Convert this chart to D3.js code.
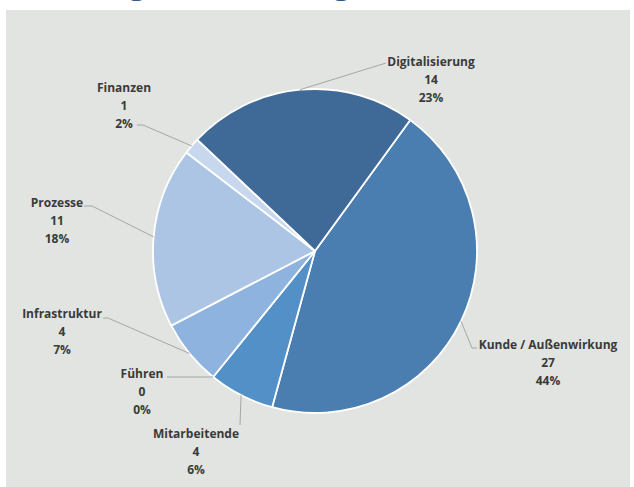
<!DOCTYPE html>
<html>
<head>
<meta charset="utf-8">
<script src="https://cdn.jsdelivr.net/npm/d3@7"></script>
<style>
    body { margin: 0; background: #ffffff; }
    svg { display: block; }
    .lbl { font-family: "Open Sans", sans-serif; font-weight: 700; font-size: 12px; fill: #3a3a3a; }
</style>
</head>
<body>
<div id="chart"></div>
<script>
// chart data, clockwise from the first slice
const categories = ["Kunde / Außenwirkung", "Mitarbeitende", "Führen", "Infrastruktur", "Prozesse", "Finanzen", "Digitalisierung"];
const counts = [27, 4, 0, 4, 11, 1, 14];
const percentLabels = ["44%", "6%", "0%", "7%", "18%", "2%", "23%"];
const colors = ["#4a7eb1", "#5290c7", "#5a95cb", "#8eb3de", "#adc5e5", "#c7d7ee", "#3f6a98"];
const title = "Zuordnung der Meldungen";

const W = 634, H = 487;
const cx = 315, cy = 251, R = 162;

// label centre x, first line y, and leader path (elbow) near the label
const labelPos = [
    { x: 548, y: 349, elbow: [[472, 348], [477, 348]] },
    { x: 196, y: 438, elbow: [[240, 425]] },
    { x: 142, y: 378, elbow: [[167, 377]] },
    { x: 62, y: 318, elbow: [[108, 318], [103, 318]] },
    { x: 57, y: 207, elbow: [[92, 206], [84, 206]] },
    { x: 124, y: 92, elbow: [[143, 125], [137, 125]] },
    { x: 431, y: 66, elbow: [[386, 63]] }
];

const svg = d3.select("#chart").append("svg")
    .attr("width", W)
    .attr("height", H);

// title sits above the panel, only descenders are visible
const t = svg.append("text")
    .attr("y", -7.5)
    .attr("font-family", "Open Sans, sans-serif")
    .attr("font-size", 33)
    .attr("fill", "#2f5a8c")
    .text(title);
const gi = title.indexOf("g");
const gx = t.node().getStartPositionOfChar(gi).x;
t.attr("x", 128 - gx);

svg.append("rect")
    .attr("x", 6).attr("y", 10)
    .attr("width", 624).attr("height", H - 10)
    .attr("fill", "#e2e4e1");

const data = categories.map((c, i) => ({ name: c, value: counts[i], pct: percentLabels[i], color: colors[i] }));

const pie = d3.pie()
    .value(d => d.value)
    .sort(null)
    .startAngle(36 * Math.PI / 180)
    .endAngle(396 * Math.PI / 180);

const arcs = pie(data);
const arc = d3.arc().innerRadius(0).outerRadius(R);

const g = svg.append("g").attr("transform", `translate(${cx},${cy})`);

g.selectAll("path.slice")
    .data(arcs.filter(a => a.data.value > 0))
    .join("path")
    .attr("class", "slice")
    .attr("d", arc)
    .attr("fill", d => d.data.color)
    .attr("stroke", "#ffffff")
    .attr("stroke-width", 1.8)
    .attr("stroke-linejoin", "round");

// leader lines
arcs.forEach((a, i) => {
    const mid = (a.startAngle + a.endAngle) / 2;
    const p0 = [cx + R * Math.sin(mid), cy - R * Math.cos(mid)];
    const pts = [p0].concat(labelPos[i].elbow);
    svg.append("path")
        .attr("d", d3.line()(pts))
        .attr("fill", "none")
        .attr("stroke", "#a6a6a6")
        .attr("stroke-width", 1);
});

// labels
arcs.forEach((a, i) => {
    const lp = labelPos[i];
    const txt = svg.append("text")
        .attr("class", "lbl")
        .attr("text-anchor", "middle")
        .attr("x", lp.x)
        .attr("y", lp.y);
    [a.data.name, a.data.value, a.data.pct].forEach((s, k) => {
        txt.append("tspan")
            .attr("x", lp.x)
            .attr("dy", k === 0 ? 0 : 18.2)
            .text(s);
    });
});
</script>
</body>
</html>
